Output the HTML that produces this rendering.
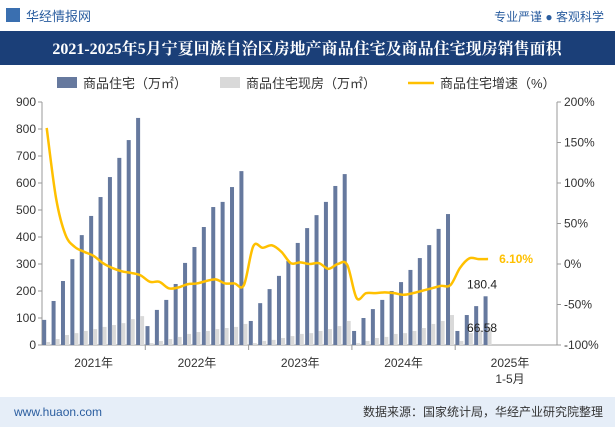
<!DOCTYPE html>
<html><head><meta charset="utf-8">
<style>
body{margin:0;width:615px;height:427px;overflow:hidden;background:#fff;font-family:"Liberation Sans","Noto Sans CJK SC",sans-serif;}
svg{display:block}
</style></head>
<body>
<svg id="c" width="615" height="427" xmlns="http://www.w3.org/2000/svg">
<rect x="0" y="0" width="615" height="30" fill="#fff"/>
<rect x="6" y="8" width="14" height="14" fill="#3a6fb0"/>
<text x="26" y="21" font-size="13" fill="#2a5d9f">华经情报网</text>
<text x="604" y="21" font-size="12" fill="#2a5d9f" text-anchor="end">专业严谨 ● 客观科学</text>
<rect x="0" y="31" width="615" height="34" fill="#1b3f78"/>
<text x="307" y="54" font-size="16" font-weight="bold" fill="#fff" text-anchor="middle" font-family="'Liberation Serif','Noto Serif CJK SC',serif">2021-2025年5月宁夏回族自治区房地产商品住宅及商品住宅现房销售面积</text>
<rect x="57" y="77" width="20" height="11" fill="#66799e"/>
<text x="83" y="88" font-size="13" fill="#333">商品住宅（万㎡）</text>
<rect x="220" y="77" width="20" height="11" fill="#d9d9d9"/>
<text x="246" y="88" font-size="13" fill="#333">商品住宅现房（万㎡）</text>
<line x1="408" y1="83" x2="434" y2="83" stroke="#ffc000" stroke-width="2.5"/>
<text x="440" y="88" font-size="13" fill="#333">商品住宅增速（%）</text>
<g id="plot"></g>
<rect x="0" y="397" width="615" height="30" fill="#e6eef8"/>
<text x="14" y="416" font-size="12" fill="#2a5d9f">www.huaon.com</text>
<text x="603" y="416" font-size="12" fill="#333" text-anchor="end">数据来源：国家统计局，华经产业研究院整理</text>
</svg>
<script>
const years=["2021年","2022年","2023年","2024年"];
const housing=[93,163,237,318,407,478,548,622,693,759,841, 70,130,167,226,304,363,437,511,530,585,644, 89,155,207,256,311,378,433,481,530,589,633, 52,100,133,167,200,233,278,322,370,430,485, 52,111,144,180.4];
const existing=[11,22,37,44,52,59,67,74,81,96,107, 7,15,22,30,41,48,52,59,63,67,78, 7,15,19,26,33,41,44,52,59,70,89, 7,15,26,30,41,44,52,63,78,89,111, 15,44,55,66.58];
const growth=[168,81,36,21,15,10,1,-5,-9,-11,-14, -22,-22,-30,-29,-25,-24,-21,-19,-24,-24,-26, 22,20,23,15,1,2,0,1,-6,0,-1, -42,-36,-36,-35,-36,-38,-36,-33,-30,-27,-26, -5,7,6,6.1];
const leftTicks=[0,100,200,300,400,500,600,700,800,900];
const rightTicks=[-100,-50,0,50,100,150,200];
const NS="http://www.w3.org/2000/svg";
const g=document.getElementById('plot');
const X0=42,X1=557,Y0=345,Y1=102,slot=103.3/11;
const xs=i=>X0+(i+0.5)*slot;
const yL=v=>Y0-(v/900)*(Y0-Y1);
const yR=v=>Y0-((v+100)/300)*(Y0-Y1);
function el(t,a,txt){const e=document.createElementNS(NS,t);for(const k in a)e.setAttribute(k,a[k]);if(txt!==undefined)e.textContent=txt;g.appendChild(e);return e;}
let ax=el('line',{x1:X0,y1:Y1,x2:X0,y2:Y0,stroke:'#999'});


ax=el('line',{x1:X1,y1:Y1,x2:X1,y2:Y0,stroke:'#999'});


ax=el('line',{x1:X0,y1:Y0,x2:X1,y2:Y0,stroke:'#999'});


leftTicks.forEach(v=>{
 el('line',{x1:X0-4,y1:yL(v),x2:X0,y2:yL(v),stroke:'#999'});
 const t=el('text',{x:X0-6,y:yL(v)+4,'font-size':12,fill:'#333','text-anchor':'end'},v);
 
 
});
rightTicks.forEach(v=>{
 el('line',{x1:X1,y1:yR(v),x2:X1+4,y2:yR(v),stroke:'#999'});
 const t=el('text',{x:X1+7,y:yR(v)+4,'font-size':12,fill:'#333'},v+'%');
 
 
});
[1,2,3,4].forEach(k=>el('line',{x1:X0+k*11*slot,y1:Y0,x2:X0+k*11*slot,y2:Y0+5,stroke:'#999'}));
years.forEach((y,k)=>{
 const t=el('text',{x:X0+(k+0.5)*11*slot,y:367,'font-size':12,fill:'#333','text-anchor':'middle'},y);
 
 
});
let t=el('text',{x:510,y:367,'font-size':12,fill:'#333','text-anchor':'middle'},'2025年');


t=el('text',{x:510,y:383,'font-size':12,fill:'#333','text-anchor':'middle'},'1-5月');


housing.forEach((v,i)=>{
 const r=el('rect',{x:xs(i)-4.5,y:yL(v),width:4,height:Y0-yL(v),fill:'#66799e'});
 
 
});
existing.forEach((v,i)=>{
 const r=el('rect',{x:xs(i)-0.5,y:yL(v),width:4,height:Y0-yL(v),fill:'#d9d9d9'});
 
 
});
const pts=growth.map((v,i)=>[xs(i),yR(v)]);
let d='M'+pts[0][0]+','+pts[0][1];
for(let i=0;i<pts.length-1;i++){
 const p0=pts[i-1]||pts[i],p1=pts[i],p2=pts[i+1],p3=pts[i+2]||p2;
 const c1=[p1[0]+(p2[0]-p0[0])/6,p1[1]+(p2[1]-p0[1])/6],c2=[p2[0]-(p3[0]-p1[0])/6,p2[1]-(p3[1]-p1[1])/6];
 d+=` C${c1[0]},${c1[1]} ${c2[0]},${c2[1]} ${p2[0]},${p2[1]}`;
}
const ln=el('path',{d:d,fill:'none',stroke:'#ffc000','stroke-width':2.5});


const n=housing.length-1;
t=el('text',{x:xs(n)-6,y:yL(housing[n])-8,'font-size':12,fill:'#222','text-anchor':'middle'},housing[n]);


t=el('text',{x:xs(n)-6,y:yL(existing[n])+5,'font-size':12,fill:'#222','text-anchor':'middle'},existing[n]);


t=el('text',{x:xs(growth.length-1)+11,y:yR(growth[growth.length-1])+4,'font-size':12,'font-weight':'bold',fill:'#ffc000'},growth[growth.length-1].toFixed(2)+'%');


</script>
</body></html>
